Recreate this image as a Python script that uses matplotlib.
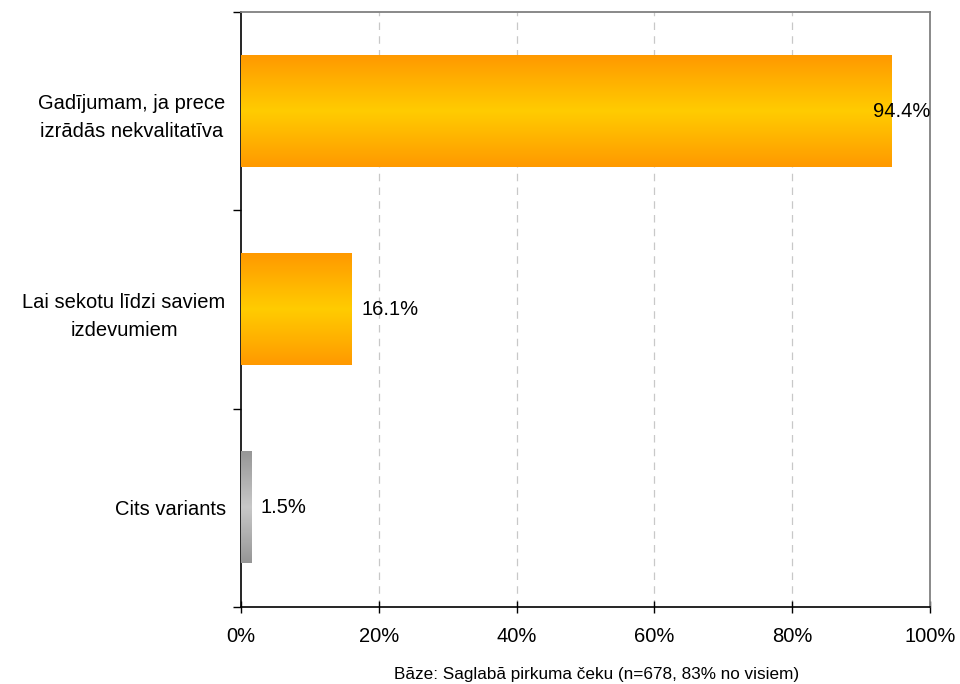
import numpy as np
import matplotlib
matplotlib.use("Agg")
import matplotlib.pyplot as plt
from matplotlib.colors import LinearSegmentedColormap

plt.rcParams['font.family'] = ['Liberation Sans', 'DejaVu Sans']

categories = ["Gadījumam, ja prece\nizrādās nekvalitatīva",
              "Lai sekotu līdzi saviem\nizdevumiem",
              "Cits variants"]
values = [94.4, 16.1, 1.5]
value_labels = ["94.4%", "16.1%", "1.5%"]
bar_styles = ["orange", "orange", "gray"]
x_ticks = [0, 20, 40, 60, 80, 100]
x_tick_labels = ["0%", "20%", "40%", "60%", "80%", "100%"]
footnote = "Bāze: Saglabā pirkuma čeku (n=678, 83% no visiem)"

gradients = {
    "orange": LinearSegmentedColormap.from_list("orng", ["#FF9900", "#FFCC00", "#FF9900"]),
    "gray": LinearSegmentedColormap.from_list("gry", ["#969696", "#C8C8C8", "#969696"]),
}

fig = plt.figure(figsize=(9.6, 6.84), dpi=100)
ax = fig.add_axes([241/960, 1-607/684, (930-241)/960, (607-12)/684])

ypos = np.arange(len(categories))
bars = ax.barh(ypos, values, height=0.56, color="none", edgecolor="none", zorder=3)

grad = np.linspace(0, 1, 256).reshape(-1, 1)
for bar, style in zip(bars, bar_styles):
    x0, y0 = bar.get_x(), bar.get_y()
    w, h = bar.get_width(), bar.get_height()
    ax.imshow(grad, cmap=gradients[style], aspect="auto",
              extent=[x0, x0 + w, y0 + h, y0], zorder=3, interpolation="bilinear")

ax.set_xlim(0, 100)
ax.set_ylim(len(categories) - 0.5, -0.5)

# value labels: outside the bar end, kept inside the plot frame
for y, v, lab in zip(ypos, values, value_labels):
    if v > 90:
        ax.text(100, y, lab, ha="right", va="center", fontsize=14.5, zorder=4)
    else:
        ax.text(v + 1.4, y, lab, ha="left", va="center", fontsize=14.5, zorder=4)

# grid
for t in x_ticks[1:-1]:
    ax.axvline(t, color="#C8C8C8", lw=0.9, ls=(0, (6, 5)), zorder=1)

ax.set_xticks(x_ticks)
ax.set_xticklabels(x_tick_labels, fontsize=14.5)
ax.tick_params(axis="x", direction="inout", length=9, width=1, pad=10)

ax.set_yticks(np.arange(len(categories) + 1) - 0.5, minor=False)
ax.set_yticklabels([])
ax.tick_params(axis="y", direction="out", length=6, width=1)
ax.set_yticks(ypos, minor=True)
ax.set_yticklabels(categories, minor=True, fontsize=14.5, ha="right",
                   multialignment="center", linespacing=1.6)
ax.tick_params(axis="y", which="minor", length=0, pad=11)

for s in ["top", "right"]:
    ax.spines[s].set_color("#808080")
    ax.spines[s].set_linewidth(1.3)
for s in ["left", "bottom"]:
    ax.spines[s].set_color("black")
    ax.spines[s].set_linewidth(1.2)

fig.text(597/960, 1-675/684, footnote, ha="center", va="center", fontsize=12.3)

fig.savefig("out.png", dpi=100)
